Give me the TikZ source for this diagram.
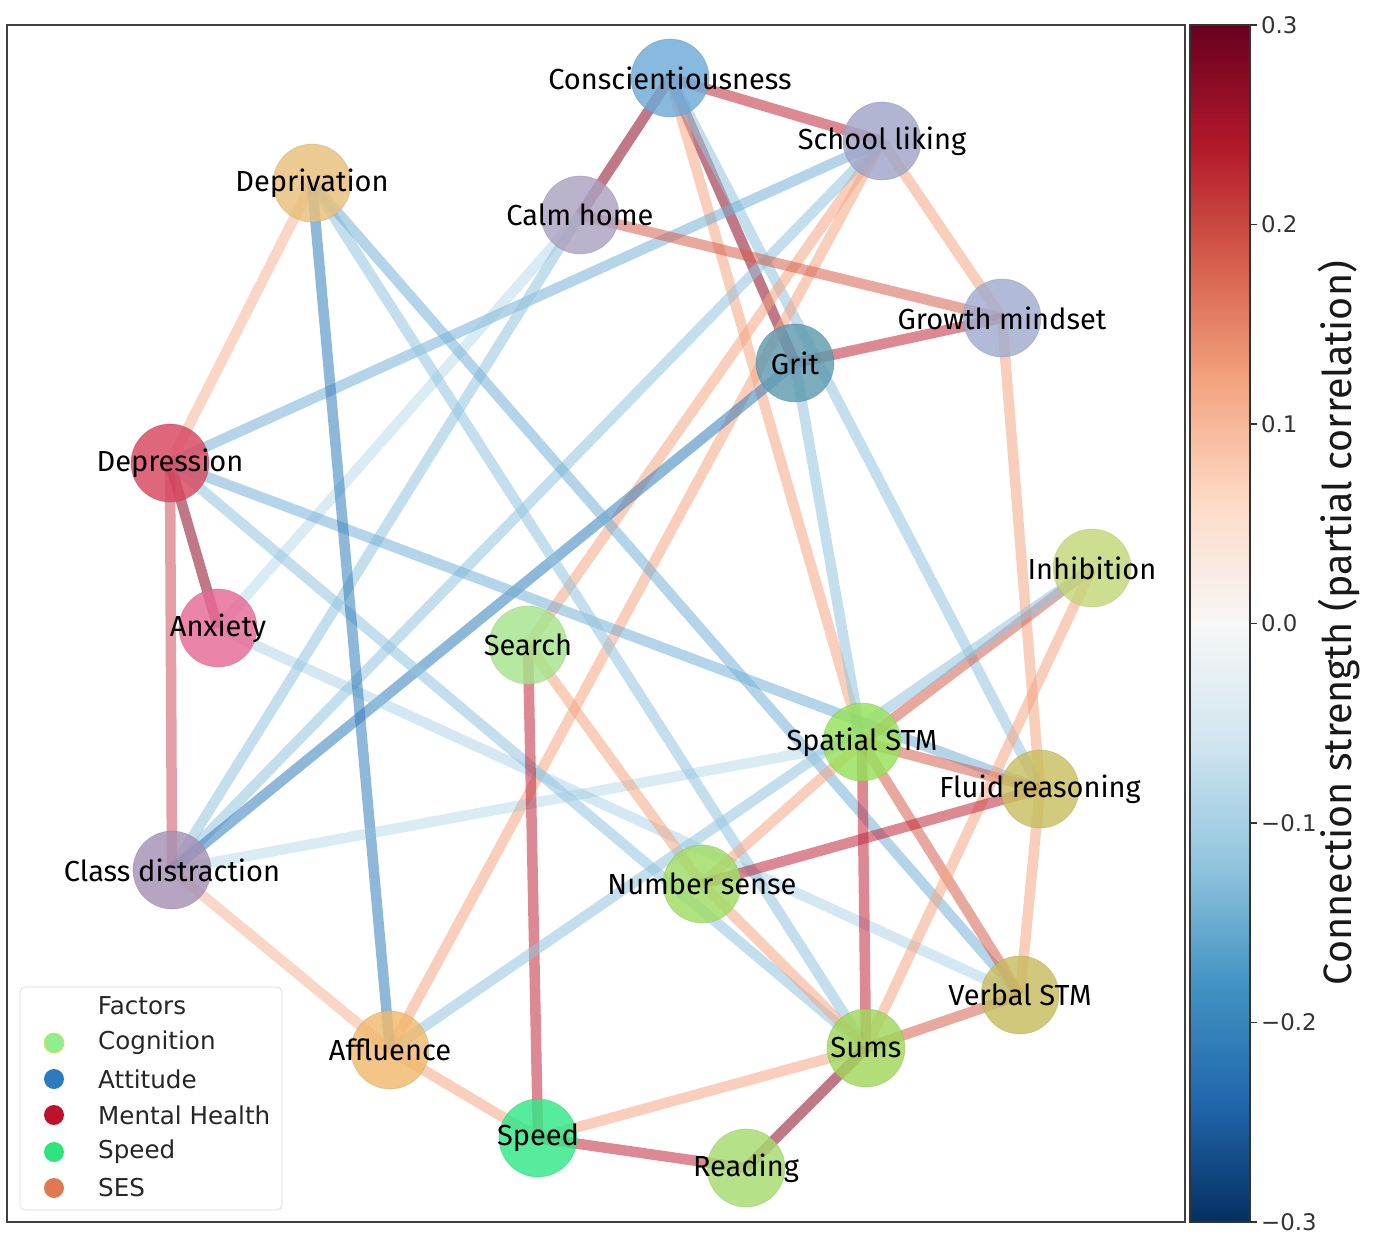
\documentclass[tikz,border=0pt]{standalone}
\usepackage{fontspec}
\setmainfont{DejaVu Sans}
\newfontfamily\lblfont{Fira Sans}
\usetikzlibrary{backgrounds}
% node colours
\definecolor{nwCons}{RGB}{110,170,215}
\definecolor{nwSchool}{RGB}{160,165,200}
\definecolor{nwDepriv}{RGB}{232,192,122}
\definecolor{nwCalm}{RGB}{172,162,192}
\definecolor{nwGrowth}{RGB}{160,172,206}
\definecolor{nwGrit}{RGB}{95,155,175}
\definecolor{nwDepr}{RGB}{215,70,95}
\definecolor{nwInhib}{RGB}{195,215,120}
\definecolor{nwAnx}{RGB}{230,105,150}
\definecolor{nwSearch}{RGB}{165,228,140}
\definecolor{nwSpatial}{RGB}{150,225,90}
\definecolor{nwFluid}{RGB}{200,190,95}
\definecolor{nwClass}{RGB}{165,145,180}
\definecolor{nwNum}{RGB}{160,220,100}
\definecolor{nwVerbal}{RGB}{200,188,95}
\definecolor{nwSums}{RGB}{160,215,90}
\definecolor{nwAffl}{RGB}{240,185,110}
\definecolor{nwSpeed}{RGB}{50,230,135}
\definecolor{nwRead}{RGB}{165,220,110}
% edge colours
\definecolor{eStrong}{RGB}{140,10,35}
\definecolor{eRed}{RGB}{192,40,58}
\definecolor{eSalmon}{RGB}{214,96,77}
\definecolor{eOrange}{RGB}{244,165,130}
\definecolor{eLBlue}{RGB}{146,197,222}
\definecolor{eBlue}{RGB}{118,178,215}
\definecolor{eMBlue}{RGB}{50,125,185}
% colourbar stops
\definecolor{cbA}{HTML}{67001F}
\definecolor{cbB}{HTML}{B2182B}
\definecolor{cbC}{HTML}{D6604D}
\definecolor{cbD}{HTML}{F4A582}
\definecolor{cbE}{HTML}{FDDBC7}
\definecolor{cbF}{HTML}{F7F7F7}
\definecolor{cbG}{HTML}{D1E5F0}
\definecolor{cbH}{HTML}{92C5DE}
\definecolor{cbI}{HTML}{4393C3}
\definecolor{cbJ}{HTML}{2166AC}
\definecolor{cbK}{HTML}{053061}
% legend markers
\definecolor{lgCog}{RGB}{144,238,144}
\definecolor{lgAtt}{RGB}{44,123,191}
\definecolor{lgMent}{RGB}{192,16,44}
\definecolor{lgSpeed}{RGB}{45,228,126}
\definecolor{lgSes}{RGB}{224,120,80}

\begin{document}
\begin{tikzpicture}[x=0.02cm, y=-0.02cm,
  factor/.style={circle, minimum size=1.56cm, inner sep=0pt, fill=#1, fill opacity=0.82, draw=#1!85!black, draw opacity=0.4},
  tag/.style={label={[font=\lblfont\fontsize{16.5}{18}\selectfont, text=black]center:#1}},
  link/.style={line width=0.21cm, draw=#1, draw opacity=0.55},
  legtext/.style={anchor=west, font=\fontsize{14}{16}\selectfont, text=black!85}]
  \useasboundingbox (0,0) rectangle (1384,1248);

  % Factors
  \node[factor=nwCons, tag=Conscientiousness] (cons) at (670,78) {};
  \node[factor=nwSchool, tag=School liking] (school) at (882,141) {};
  \node[factor=nwDepriv, tag=Deprivation] (depriv) at (312,183) {};
  \node[factor=nwCalm, tag=Calm home] (calm) at (580,215) {};
  \node[factor=nwGrowth, tag=Growth mindset] (growth) at (1002,318) {};
  \node[factor=nwGrit, tag=Grit] (grit) at (795,363) {};
  \node[factor=nwDepr, tag=Depression] (depr) at (170,463) {};
  \node[factor=nwInhib, tag=Inhibition] (inhib) at (1092,568) {};
  \node[factor=nwAnx, tag=Anxiety] (anx) at (218,628) {};
  \node[factor=nwSearch, tag=Search] (search) at (528,645) {};
  \node[factor=nwSpatial, tag=Spatial STM] (spatial) at (862,742) {};
  \node[factor=nwFluid, tag=Fluid reasoning] (fluid) at (1040,789) {};
  \node[factor=nwClass, tag=Class distraction] (classd) at (172,870) {};
  \node[factor=nwNum, tag=Number sense] (numsense) at (702,884) {};
  \node[factor=nwVerbal, tag=Verbal STM] (verbal) at (1020,995) {};
  \node[factor=nwSums, tag=Sums] (sums) at (866,1048) {};
  \node[factor=nwAffl, tag=Affluence] (affl) at (390,1050) {};
  \node[factor=nwSpeed, tag=Speed] (speed) at (538,1138) {};
  \node[factor=nwRead, tag=Reading] (reading) at (746,1168) {};

  % Connections (partial correlations)
  \begin{scope}[on background layer]
    \draw[black!75, line width=1.2pt] (7,25) rectangle (1185,1222);
    \draw[link=eRed] (cons.center) -- (school.center);
    \draw[link=eStrong] (cons.center) -- (calm.center);
    \draw[link=eStrong] (cons.center) -- (grit.center);
    \draw[link=eOrange] (cons.center) -- (spatial.center);
    \draw[link=eLBlue] (cons.center) -- (fluid.center);
    \draw[link=eOrange] (school.center) -- (growth.center);
    \draw[link=eOrange] (school.center) -- (search.center);
    \draw[link=eOrange] (school.center) -- (affl.center);
    \draw[link=eBlue] (school.center) -- (depr.center);
    \draw[link=eLBlue] (school.center) -- (classd.center);
    \draw[link=eSalmon] (calm.center) -- (growth.center);
    \draw[link=eLBlue] (calm.center) -- (classd.center);
    \draw[link=eLBlue, draw opacity=0.35] (calm.center) -- (anx.center);
    \draw[link=eRed] (growth.center) -- (grit.center);
    \draw[link=eOrange] (growth.center) -- (fluid.center);
    \draw[link=eMBlue] (grit.center) -- (classd.center);
    \draw[link=eLBlue] (grit.center) -- (spatial.center);
    \draw[link=eOrange, draw opacity=0.45] (depr.center) -- (depriv.center);
    \draw[link=eStrong] (depr.center) -- (anx.center);
    \draw[link=eRed, draw opacity=0.45] (depr.center) -- (classd.center);
    \draw[link=eBlue] (depr.center) -- (fluid.center);
    \draw[link=eLBlue] (depr.center) -- (sums.center);
    \draw[link=eLBlue, draw opacity=0.4] (anx.center) -- (verbal.center);
    \draw[link=eMBlue] (depriv.center) -- (affl.center);
    \draw[link=eLBlue] (depriv.center) -- (sums.center);
    \draw[link=eBlue] (depriv.center) -- (verbal.center);
    \draw[link=eOrange, draw opacity=0.45] (classd.center) -- (affl.center);
    \draw[link=eLBlue, draw opacity=0.35] (classd.center) -- (spatial.center);
    \draw[link=eRed] (search.center) -- (speed.center);
    \draw[link=eOrange] (search.center) -- (numsense.center);
    \draw[link=eSalmon] (spatial.center) -- (inhib.center);
    \draw[link=eSalmon] (spatial.center) -- (fluid.center);
    \draw[link=eOrange] (spatial.center) -- (numsense.center);
    \draw[link=eSalmon] (spatial.center) -- (verbal.center);
    \draw[link=eRed] (spatial.center) -- (sums.center);
    \draw[link=eLBlue] (inhib.center) -- (affl.center);
    \draw[link=eOrange] (inhib.center) -- (sums.center);
    \draw[link=eRed] (fluid.center) -- (numsense.center);
    \draw[link=eOrange] (fluid.center) -- (verbal.center);
    \draw[link=eSalmon] (verbal.center) -- (sums.center);
    \draw[link=eOrange] (numsense.center) -- (sums.center);
    \draw[link=eOrange] (sums.center) -- (speed.center);
    \draw[link=eStrong] (sums.center) -- (reading.center);
    \draw[link=eRed] (speed.center) -- (reading.center);
    \draw[link=eOrange] (speed.center) -- (affl.center);
  \end{scope}

  % Legend
  \draw[black!15, rounded corners=3pt, fill=white, fill opacity=0.8] (20,987) rectangle (282,1210);
  \node[font=\fontsize{14}{16}\selectfont, text=black!85] (legtitle) at (142,1006) {Factors};
  \fill[lgCog, draw=yellow!60!lgCog] (54,1043) circle (0.2cm);
  \fill[lgAtt] (54,1079) circle (0.2cm);
  \fill[lgMent] (54,1115) circle (0.2cm);
  \fill[lgSpeed] (54,1152) circle (0.2cm);
  \fill[lgSes] (54,1188) circle (0.2cm);
  \node[legtext] (legcog) at (92,1043) {Cognition};
  \node[legtext] (legatt) at (92,1079) {Attitude};
  \node[legtext] (legment) at (92,1115) {Mental Health};
  \node[legtext] (legspeed) at (92,1152) {Speed};
  \node[legtext] (legses) at (92,1188) {SES};

  % Colourbar
  \foreach \ya/\yb/\ca/\cb in {25/145/cbA/cbB, 144.7/265/cbB/cbC, 264.4/385/cbC/cbD,
      384.1/504/cbD/cbE, 503.8/624/cbE/cbF, 623.5/744/cbF/cbG, 743.2/863/cbG/cbH,
      862.9/983/cbH/cbI, 982.6/1103/cbI/cbJ, 1102.3/1222/cbJ/cbK}
    \shade[top color=\ca, bottom color=\cb] (1190,\ya) rectangle (1250,\yb);
  \draw[black!80, line width=0.8pt] (1190,25) rectangle (1250,1222);
  \foreach \yy/\val in {25/0.3, 224.5/0.2, 424/0.1, 623.5/0.0, 823/−0.1, 1022.5/−0.2, 1222/−0.3} {
    \draw[black!80, line width=0.8pt] (1250,\yy) -- (1257,\yy);
    \node[anchor=west, font=\fontsize{13}{15}\selectfont, text=black!80, inner sep=1pt] at (1259,\yy) {\val};
  }
  \node[rotate=90, font=\lblfont\fontsize{22.5}{26}\selectfont, text=black!90] (cblabel) at (1339,623) {Connection strength (partial correlation)};
\end{tikzpicture}
\end{document}
